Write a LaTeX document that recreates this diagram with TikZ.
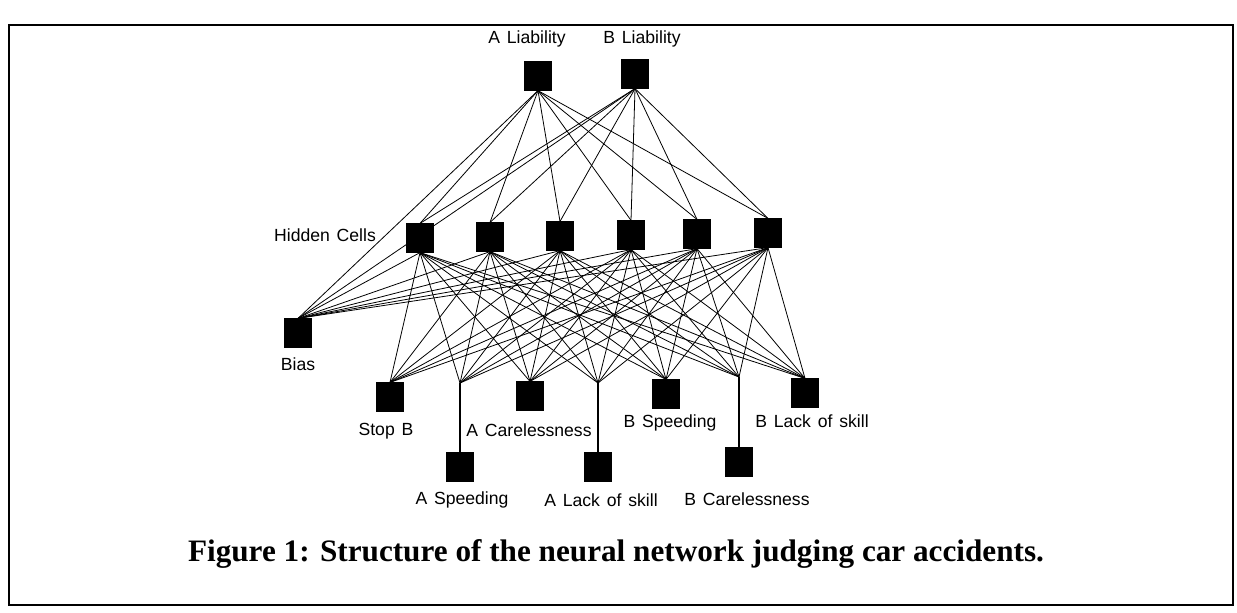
\documentclass[tikz,border=0pt]{standalone}
\usepackage{fontspec}
\setmainfont{Liberation Serif}
\setsansfont{Liberation Sans}[WordSpace=1.4]
\usepackage{tikz}
\usetikzlibrary{calc, positioning}
\pgfdeclarelayer{background}
\pgfsetlayers{background,main}

\tikzset{
	cell/.style={draw=black, fill=black, inner sep=0pt, minimum width=20.5pt, minimum height=21.5pt},
	cellname/.style={font=\sffamily\fontsize{13.2}{15}\selectfont, inner sep=0.75pt},
	wire/.style={line width=0.6pt},
	stem/.style={line width=1.8pt},
}

\begin{document}
\begin{tikzpicture}[x=0.75pt,y=0.75pt,yscale=-1,xscale=1]
		\useasboundingbox (0,0) rectangle (1237,612);

		%Shape: Rectangle (frame)
		\draw [line width=2.2pt] (9,25) rectangle (1233,605);

		%Shape: Square (output cells)
		\node [cell] (outA) at (538,76) {};
		\node [cell] (outB) at (635,74) {};
		%Shape: Square (hidden cells)
		\node [cell] (h1) at (420,238) {};
		\node [cell] (h2) at (490,237) {};
		\node [cell] (h3) at (560,236) {};
		\node [cell] (h4) at (631,235) {};
		\node [cell] (h5) at (697,234) {};
		\node [cell] (h6) at (768,233) {};
		%Shape: Square (bias)
		\node [cell] (bias) at (298,333) {};
		%Shape: Square (input cells)
		\node [cell] (stopB) at (390,397) {};
		\node [cell] (aCare) at (530,396) {};
		\node [cell] (bSpeed) at (666,394) {};
		\node [cell] (bLack) at (805,393) {};
		\node [cell] (aSpeed) at (460,467) {};
		\node [cell] (aLack) at (598,467) {};
		\node [cell] (bCare) at (739,462) {};
		% branch points of the lower inputs
		\coordinate (jAS) at (460,383);
		\coordinate (jAL) at (598,383);
		\coordinate (jBC) at (739,377);

		%Straight Lines
		\begin{pgfonlayer}{background}
			\foreach \h in {h1,h2,h3,h4,h5,h6} {
				\draw [wire] (outA.south) -- (\h.north);
				\draw [wire] (outB.south) -- (\h.north);
				\draw [wire] (bias.north) -- (\h.south);
				\foreach \i in {stopB.north,aCare.north,bSpeed.north,bLack.north,jAS,jAL,jBC}
					\draw [wire] (\h.south) -- (\i);
			}
			\draw [wire] (bias.north) -- (outA.south);
			\draw [wire] (bias.north) -- (outB.south);
		\end{pgfonlayer}
		\draw [stem] (jAS) -- (aSpeed.north);
		\draw [stem] (jAL) -- (aLack.north);
		\draw [stem] (jBC) -- (bCare.north);

		% Text Node
		\node [cellname] (tA) at (527,39) {A Liability};
		% Text Node
		\node [cellname] (tB) at (642,39) {B Liability};
		% Text Node
		\node [cellname] (tHidden) at (325,235) {Hidden Cells};
		% Text Node
		\node [cellname] (tBias) at (298,364) {Bias};
		% Text Node
		\node [cellname] (tStopB) at (386,431) {Stop B};
		% Text Node
		\node [cellname] (tACare) at (529,430) {A Carelessness};
		% Text Node
		\node [cellname] (tBSpeed) at (670,423) {B Speeding};
		% Text Node
		\node [cellname] (tBLack) at (812,421) {B Lack of skill};
		% Text Node
		\node [cellname] (tASpeed) at (462,500) {A Speeding};
		% Text Node
		\node [cellname] (tALack) at (601,500) {A Lack of skill};
		% Text Node
		\node [cellname] (tBCare) at (747,499) {B Carelessness};

		% Text Node
		\node [font=\bfseries\fontsize{23.4}{28}\selectfont, inner sep=0.75pt] (caption) at (616,554) {Figure 1: Structure of the neural network judging car accidents.};

\end{tikzpicture}
\end{document}
